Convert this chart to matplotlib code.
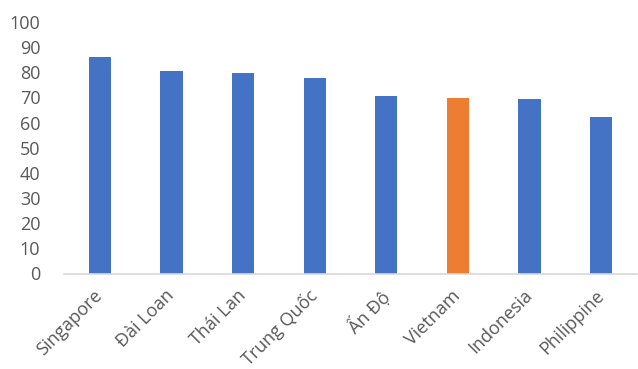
import matplotlib
matplotlib.use("Agg")
import matplotlib.pyplot as plt

# data
countries = ["Singapore", "Đài Loan", "Thái Lan", "Trung Quốc", "Ấn Độ",
             "Vietnam", "Indonesia", "Philippine"]
scores = [85.9, 80.5, 79.8, 77.6, 70.6, 69.7, 69.2, 62.4]
highlight = "Vietnam"

BLUE = "#4472C4"
ORANGE = "#ED7D31"
TEXT = "#595959"

plt.rcParams["font.family"] = ["Open Sans", "DejaVu Sans"]

fig = plt.figure(figsize=(6.38, 3.69), dpi=100)
ax = fig.add_axes([64 / 638, 1 - 273.5 / 369, 573 / 638, 251.5 / 369])

colors = [ORANGE if c == highlight else BLUE for c in countries]
x = range(len(countries))
ax.bar(x, scores, width=0.31, color=colors)

ax.set_ylim(0, 100)
ax.set_xlim(-0.5, len(countries) - 0.5)
ax.set_yticks(range(0, 101, 10))
ax.set_xticks(list(x))
ax.set_xticklabels(countries, rotation=45, ha="right", va="center",
                   rotation_mode="anchor", fontsize=14)
ax.tick_params(axis="both", length=0, labelsize=13, colors=TEXT)
ax.tick_params(axis="y", pad=17)
ax.tick_params(axis="x", pad=14)

for side in ["top", "right", "left"]:
    ax.spines[side].set_visible(False)
ax.spines["bottom"].set_color("#D9D9D9")
ax.spines["bottom"].set_linewidth(1.2)

fig.savefig("out.png", dpi=100)
